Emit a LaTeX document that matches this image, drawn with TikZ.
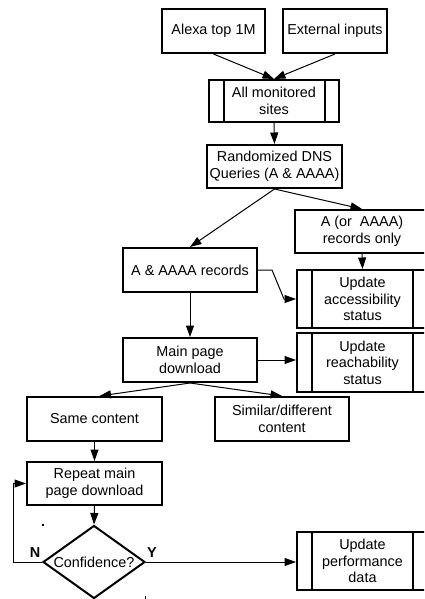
\documentclass[tikz,border=0pt]{standalone}
\usepackage{fontspec}
\setmainfont{Liberation Sans}
\usetikzlibrary{arrows.meta,shapes.geometric,calc}
\begin{document}
\begin{tikzpicture}[x=1pt,y=-1pt,
  box/.style={draw, line width=2pt, inner sep=0pt, align=center,
    font=\fontsize{14.4}{16.5}\selectfont},
  arr/.style={line width=1pt, -{Triangle[length=11.5pt,width=8pt]}},
  lbl/.style={font=\fontsize{14.4}{16.5}\selectfont\bfseries, inner sep=0pt}]
\fill[white] (0,0) rectangle (424,599);
\clip (0,0) rectangle (424,599);
% boxes
\node[box, minimum width=103pt, minimum height=44pt] (alexa) at (213.5,31) {Alexa top 1M};
\node[box, minimum width=104pt, minimum height=44pt] (ext) at (335,31) {External inputs};
\node[box, minimum width=130pt, minimum height=42pt] (all) at (274,101) {All monitored\\sites};
\node[box, minimum width=135pt, minimum height=43pt] (dns) at (274.5,166.5) {Randomized DNS\\Queries (A \& AAAA)};
\node[box, minimum width=134pt, minimum height=43pt] (aonly) at (362,231.5) {A (or\ \ AAAA)\\records only};
\node[box, minimum width=134pt, minimum height=44pt] (aaaa) at (190,270) {A \& AAAA records};
\node[box, minimum width=131pt, minimum height=58pt] (acc) at (362.5,299) {Update\\accessibility\\status};
\node[box, minimum width=134pt, minimum height=44pt] (main) at (190,360) {Main page\\download};
\node[box, minimum width=131pt, minimum height=59pt] (reach) at (362.5,362.5) {Update\\reachability\\status};
\node[box, minimum width=135pt, minimum height=44pt] (same) at (94.5,419) {Same content};
\node[box, minimum width=134pt, minimum height=44pt] (sim) at (282,419) {Similar/different\\content};
\node[box, minimum width=135pt, minimum height=43pt] (repeat) at (94.5,483.5) {Repeat main\\page download};
\node[box, shape=diamond, aspect=1.4, minimum width=102pt, minimum height=73pt] (conf) at (94,562) {Confidence?};
\node[box, minimum width=131pt, minimum height=58pt] (perf) at (362.5,561) {Update\\performance\\data};
% predefined-process side bars
\foreach \n/\d in {all/15.5, acc/16, reach/16, perf/16}{
  \draw[line width=2pt] ([xshift=\d pt]\n.north west) -- ([xshift=\d pt]\n.south west);
  \draw[line width=2pt] ([xshift=-\d pt]\n.north east) -- ([xshift=-\d pt]\n.south east);
}
% connectors
\draw[arr] (alexa.south) -- (all.north);
\draw[arr] (ext.south) -- (all.north);
\draw[arr] (all.south) -- (dns.north);
\draw[arr] (dns.south) -- (aaaa.north);
\draw[arr] (dns.south) -- (aonly.north);
\draw[arr] (aonly.south) -- (acc.north);
\draw[arr] (aaaa.east) -- ++(14,0) -- ([xshift=-12pt]acc.west) -- (acc.west);
\draw[arr] (aaaa.south) -- (main.north);
\draw[arr] (main.east) -- (main.east -| reach.west);
\draw[arr] (main.south) -- ([xshift=5pt]same.north);
\draw[arr] (main.south) -- (sim.north);
\draw[arr] (same.south) -- (repeat.north);
\draw[arr] (repeat.south) -- (conf.north);
\draw[arr] (conf.west) -- ++(-29,0) |- (repeat.west);
\draw[arr] (conf.east) -- (conf.east -| perf.west);
% branch labels
\node[lbl] (nlab) at (35,553) {N};
\node[lbl] (ylab) at (152,553) {Y};
% stray marks
\fill[black] (42.3,524) rectangle (43.5,525.5);
\fill[black] (144.6,595.5) rectangle (145.6,599);
\end{tikzpicture}
\end{document}
